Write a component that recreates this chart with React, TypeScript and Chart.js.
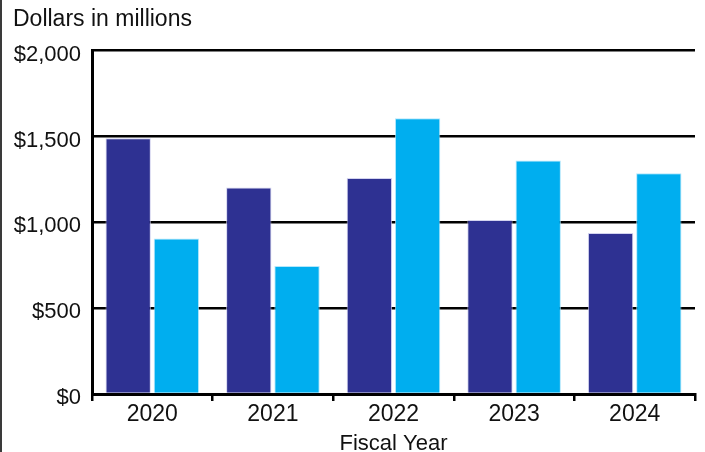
import React, { useEffect, useRef } from "react";
import { Chart, registerables } from "chart.js";

Chart.register(...registerables);

const categories = ["2020", "2021", "2022", "2023", "2024"];
const seriesA = [1489, 1203, 1258, 1013, 938];
const seriesB = [905, 745, 1606, 1360, 1285];
const yTicks = [0, 500, 1000, 1500, 2000];

const FONT = "'Liberation Sans', Arial, sans-serif";

export default function App() {
  const ref = useRef<HTMLCanvasElement | null>(null);

  useEffect(() => {
    document.body.style.margin = "0";
    const ctx = ref.current!;
    const chart = new Chart(ctx, {
      type: "bar",
      data: {
        labels: categories,
        datasets: [
          {
            label: "A",
            data: seriesA,
            backgroundColor: "#2E3192",
            borderColor: "rgba(200,200,235,0.8)",
            borderWidth: 1,
            barPercentage: 0.94,
            categoryPercentage: 0.8,
          },
          {
            label: "B",
            data: seriesB,
            backgroundColor: "#00AEEF",
            borderColor: "rgba(160,225,250,0.8)",
            borderWidth: 1,
            barPercentage: 0.94,
            categoryPercentage: 0.8,
          },
        ],
      },
      options: {
        animation: false,
        responsive: false,
        maintainAspectRatio: false,
        layout: { padding: { left: 11, right: 10, top: 0, bottom: 0 } },
        plugins: {
          legend: { display: false },
          tooltip: { enabled: false },
          title: {
            display: true,
            text: "Dollars in millions",
            align: "start",
            color: "#111",
            font: { family: FONT, size: 23, weight: "normal" },
            padding: { top: 6, bottom: 17 },
          },
        },
        scales: {
          x: {
            offset: true,
            grid: {
              offset: true,
              drawOnChartArea: false,
              drawTicks: true,
              tickLength: 7,
              color: "#000",
              lineWidth: 2.5,
            },
            border: { display: true, color: "#000", width: 3 },
            ticks: {
              color: "#111",
              padding: 2,
              font: { family: FONT, size: 23, lineHeight: 1 },
            },
            title: {
              display: true,
              text: "Fiscal Year",
              color: "#111",
              font: { family: FONT, size: 22, lineHeight: 1 },
              padding: { top: 5, bottom: -3 },
            },
          },
          y: {
            min: 0,
            max: 2000,
            afterFit: (scale: any) => {
              scale.width = 79;
            },
            afterBuildTicks: (scale: any) => {
              scale.ticks = yTicks.map((v) => ({ value: v }));
            },
            grid: {
              color: "#000",
              lineWidth: 2.5,
              drawTicks: false,
            },
            border: { display: true, color: "#000", width: 3 },
            ticks: {
              color: "#111",
              padding: 11,
              labelOffset: 4,
              font: { family: FONT, size: 22, lineHeight: 1 },
              callback: (v: any) => "$" + Number(v).toLocaleString("en-US"),
            },
          },
        },
      },
    });
    return () => chart.destroy();
  }, []);

  return (
    <div
      style={{
        width: 705,
        height: 452,
        boxSizing: "border-box",
        borderLeft: "2px solid #3a3a3a",
        background: "#fff",
        overflow: "hidden",
      }}
    >
      <canvas ref={ref} width={703} height={452} style={{ display: "block" }} />
    </div>
  );
}
